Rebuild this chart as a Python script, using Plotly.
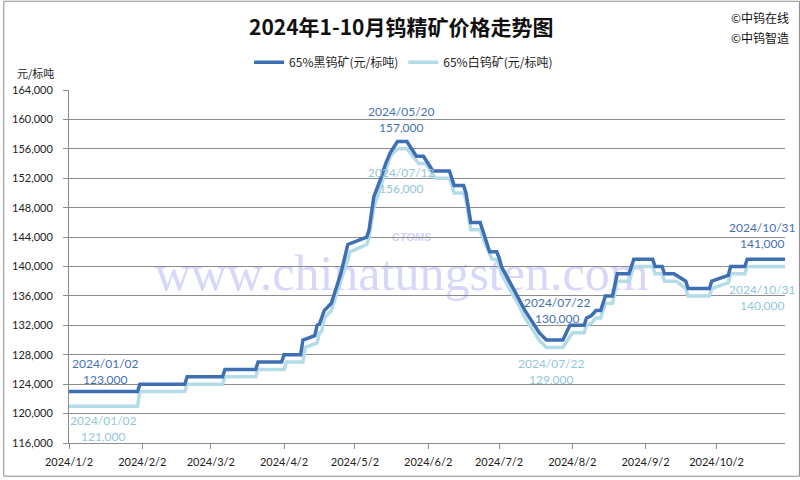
import plotly.graph_objects as go

# ---------------- data ----------------
black_dates = [
    "2024-01-02", "2024-01-31", "2024-02-01", "2024-02-20", "2024-02-21", "2024-03-07",
    "2024-03-08", "2024-03-21", "2024-03-22", "2024-04-01", "2024-04-02", "2024-04-09",
    "2024-04-10", "2024-04-15", "2024-04-16", "2024-04-17", "2024-04-19", "2024-04-22",
    "2024-04-25", "2024-04-26", "2024-04-29", "2024-05-07", "2024-05-08", "2024-05-10",
    "2024-05-13", "2024-05-15", "2024-05-17", "2024-05-20", "2024-05-24", "2024-05-28",
    "2024-05-31", "2024-06-04", "2024-06-11", "2024-06-13", "2024-06-17", "2024-06-18",
    "2024-06-20", "2024-06-24", "2024-06-25", "2024-06-28", "2024-07-01", "2024-07-02",
    "2024-07-03", "2024-07-08", "2024-07-10", "2024-07-13", "2024-07-17", "2024-07-19",
    "2024-07-22", "2024-07-29", "2024-08-01", "2024-08-07", "2024-08-08", "2024-08-10",
    "2024-08-12", "2024-08-14", "2024-08-16", "2024-08-19", "2024-08-21", "2024-08-26",
    "2024-08-28", "2024-09-05", "2024-09-06", "2024-09-09", "2024-09-10", "2024-09-14",
    "2024-09-19", "2024-09-20", "2024-09-29", "2024-09-30", "2024-10-07", "2024-10-08",
    "2024-10-14", "2024-10-15", "2024-10-31",
]
black_values = [
    123000, 123000, 124000, 124000, 125000, 125000,
    126000, 126000, 127000, 127000, 128000, 128000,
    130000, 130600, 132000, 132200, 134000, 135000,
    138000, 139000, 143000, 144000, 145000, 149500,
    152000, 154000, 155500, 157000, 157000, 155000,
    155000, 153000, 153000, 151000, 151000, 150000,
    146000, 146000, 145000, 142000, 142000, 141200,
    140000, 137000, 136000, 134000, 132000, 131000,
    130000, 130000, 132000, 132000, 133000, 133300,
    134000, 134000, 136000, 136000, 139000, 139000,
    141000, 141000, 140000, 140000, 139000, 139000,
    138000, 137000, 137000, 138000, 138800, 140000,
    140000, 141000, 141000,
]

white_dates = [
    "2024-01-02", "2024-01-31", "2024-02-01", "2024-02-20", "2024-02-21", "2024-03-07",
    "2024-03-08", "2024-03-21", "2024-03-22", "2024-04-02", "2024-04-03", "2024-04-10",
    "2024-04-11", "2024-04-16", "2024-04-17", "2024-04-18", "2024-04-19", "2024-04-22",
    "2024-04-25", "2024-04-26", "2024-04-30", "2024-05-07", "2024-05-08", "2024-05-10",
    "2024-05-13", "2024-05-15", "2024-05-17", "2024-05-20", "2024-05-24", "2024-05-29",
    "2024-06-01", "2024-06-05", "2024-06-11", "2024-06-13", "2024-06-17", "2024-06-18",
    "2024-06-20", "2024-06-24", "2024-06-25", "2024-06-29", "2024-07-01", "2024-07-02",
    "2024-07-03", "2024-07-08", "2024-07-10", "2024-07-13", "2024-07-17", "2024-07-19",
    "2024-07-22", "2024-07-29", "2024-08-02", "2024-08-07", "2024-08-08", "2024-08-10",
    "2024-08-12", "2024-08-14", "2024-08-16", "2024-08-19", "2024-08-21", "2024-08-26",
    "2024-08-28", "2024-09-05", "2024-09-06", "2024-09-09", "2024-09-10", "2024-09-15",
    "2024-09-19", "2024-09-20", "2024-09-29", "2024-09-30", "2024-10-07", "2024-10-08",
    "2024-10-14", "2024-10-15", "2024-10-31",
]
white_values = [
    121000, 121000, 123000, 123000, 124000, 124000,
    125000, 125000, 126000, 126000, 127000, 127000,
    129000, 129600, 131000, 131200, 133000, 134000,
    137000, 138000, 142000, 143000, 144000, 148000,
    151000, 153000, 155000, 156000, 156000, 154000,
    154000, 152000, 152000, 150000, 150000, 149000,
    145000, 145000, 144000, 141000, 141000, 140200,
    139000, 136000, 135000, 133000, 131000, 130000,
    129000, 129000, 131000, 131000, 132000, 132300,
    133000, 133000, 135000, 135000, 138000, 138000,
    140000, 140000, 139000, 139000, 138000, 138000,
    137000, 136000, 136000, 137000, 137800, 139000,
    139000, 140000, 140000,
]

series_names = ["65%黑钨矿(元/标吨)", "65%白钨矿(元/标吨)"]
tick_dates = ["2024-01-02", "2024-02-02", "2024-03-02", "2024-04-02", "2024-05-02",
              "2024-06-02", "2024-07-02", "2024-08-02", "2024-09-02", "2024-10-02"]
tick_labels = ["2024/1/2", "2024/2/2", "2024/3/2", "2024/4/2", "2024/5/2",
               "2024/6/2", "2024/7/2", "2024/8/2", "2024/9/2", "2024/10/2"]
y_ticks = [116000, 120000, 124000, 128000, 132000, 136000, 140000,
           144000, 148000, 152000, 156000, 160000, 164000]

# labelled points: (date, value, text)
black_marks = [("2024-01-02", 123000, "2024/01/02<br>123,000"),
               ("2024-05-20", 157000, "2024/05/20<br>157,000"),
               ("2024-07-22", 130000, "2024/07/22<br>130,000"),
               ("2024-10-31", 141000, "2024/10/31<br>141,000")]
white_marks = [("2024-01-02", 121000, "2024/01/02<br>121,000"),
               ("2024-05-20", 156000, "2024/07/12<br>156,000"),
               ("2024-07-22", 129000, "2024/07/22<br>129,000"),
               ("2024-10-31", 140000, "2024/10/31<br>140,000")]

title_text = "2024年1-10月钨精矿价格走势图"
unit_text = "元/标吨"

# ---------------- style ----------------
DARK = "#3F6FB3"
LIGHT = "#B3DCE8"
DARK_TXT = "#4472B4"
LIGHT_TXT = "#92C6DA"
GRID = "#8C8C8C"
FONT = "Lato, Noto Sans CJK SC, sans-serif"

W, H = 800, 480
ML, MR, MT, MB = 66, 15, 90, 34
PW, PH = W - ML - MR, H - MT - MB

fig = go.Figure()
fig.add_trace(go.Scatter(x=white_dates, y=white_values, mode="lines", name=series_names[1],
                         line=dict(color=LIGHT, width=3.5), legendrank=2))
fig.add_trace(go.Scatter(x=black_dates, y=black_values, mode="lines", name=series_names[0],
                         line=dict(color=DARK, width=3.5), legendrank=1))

annotations = []
shifts_b = [(36, 20), (4, 22), (11, 30), (-23, 24)]
shifts_w = [(34, -22), (4, -32), (5, -24), (-23, -31)]
for (d, v, t), (dx, dy) in zip(black_marks, shifts_b):
    annotations.append(dict(x=d, y=v, xref="x", yref="y", text=t, showarrow=False,
                            xshift=dx, yshift=dy, font=dict(size=12, color=DARK_TXT, family=FONT)))
for (d, v, t), (dx, dy) in zip(white_marks, shifts_w):
    annotations.append(dict(x=d, y=v, xref="x", yref="y", text=t, showarrow=False,
                            xshift=dx, yshift=dy, font=dict(size=12, color=LIGHT_TXT, family=FONT)))

def px_x(px):
    return (px - ML) / PW

def px_y(py):
    return 1 - (py - MT) / PH

annotations += [
    dict(x=px_x(400), y=px_y(25), xref="paper", yref="paper", text="<b>" + title_text + "</b>",
         showarrow=False, font=dict(size=21, color="#111111", family="Noto Sans CJK SC"),
         xanchor="center", yanchor="middle"),
    dict(x=px_x(760), y=px_y(17), xref="paper", yref="paper", text="©中钨在线",
         showarrow=False, font=dict(size=12, color="#111111", family="Noto Sans CJK SC"),
         xanchor="center", yanchor="middle"),
    dict(x=px_x(760), y=px_y(37), xref="paper", yref="paper", text="©中钨智造",
         showarrow=False, font=dict(size=12, color="#111111", family="Noto Sans CJK SC"),
         xanchor="center", yanchor="middle"),
    dict(x=px_x(32), y=px_y(73), xref="paper", yref="paper", text=unit_text,
         showarrow=False, font=dict(size=11, color="#222222", family="Noto Sans CJK SC"),
         xanchor="center", yanchor="middle"),
]

shapes = [
    # outer frame
    dict(type="rect", xref="paper", yref="paper", x0=px_x(0.5), x1=px_x(W - 0.5),
         y0=px_y(0.5), y1=px_y(H - 0.5), line=dict(color="#8C8C8C", width=1)),
    # watermark
    dict(type="rect", xref="paper", yref="paper", x0=px_x(150), x1=px_x(650),
         y0=px_y(295), y1=px_y(245), line=dict(width=0), layer="below",
         label=dict(text="www.chinatungsten.com",
                    font=dict(size=50, color="rgba(130,130,240,0.32)",
                              family="Liberation Serif"))),
    dict(type="rect", xref="paper", yref="paper", x0=px_x(370), x1=px_x(450),
         y0=px_y(245), y1=px_y(230), line=dict(width=0), layer="below",
         label=dict(text="<i><b>CTOMS</b></i>",
                    font=dict(size=11, color="rgba(120,120,235,0.35)", family="Liberation Sans"))),
]

fig.update_layout(
    width=W, height=H,
    margin=dict(l=ML, r=MR, t=MT, b=MB),
    paper_bgcolor="white", plot_bgcolor="white",
    font=dict(family=FONT, size=11, color="#222222"),
    showlegend=True,
    legend=dict(orientation="h", x=px_x(402), xanchor="center", y=px_y(62), yanchor="middle",
                font=dict(size=12, family="Noto Sans CJK SC", color="#222222"),
                itemwidth=30, traceorder="normal"),
    annotations=annotations,
    shapes=shapes,
    xaxis=dict(type="date", range=["2024-01-02", "2024-10-31"],
               tickvals=tick_dates, ticktext=tick_labels,
               showgrid=False, showline=True, linecolor=GRID, linewidth=1,
               ticks="outside", ticklen=5, tickcolor=GRID, ticklabelstandoff=4,
               tickfont=dict(size=11, family=FONT, color="#222222"), zeroline=False),
    yaxis=dict(range=[116000, 164000], tickvals=y_ticks, tickformat=",d",
               showgrid=True, gridcolor=GRID, gridwidth=1,
               showline=True, linecolor=GRID, linewidth=1,
               ticks="outside", ticklen=5, tickcolor=GRID, ticklabelstandoff=8,
               tickfont=dict(size=11, family=FONT, color="#222222"), zeroline=False),
)

fig.write_html("out.html", config={"displayModeBar": False},
               post_script="document.body.style.margin='0';")
